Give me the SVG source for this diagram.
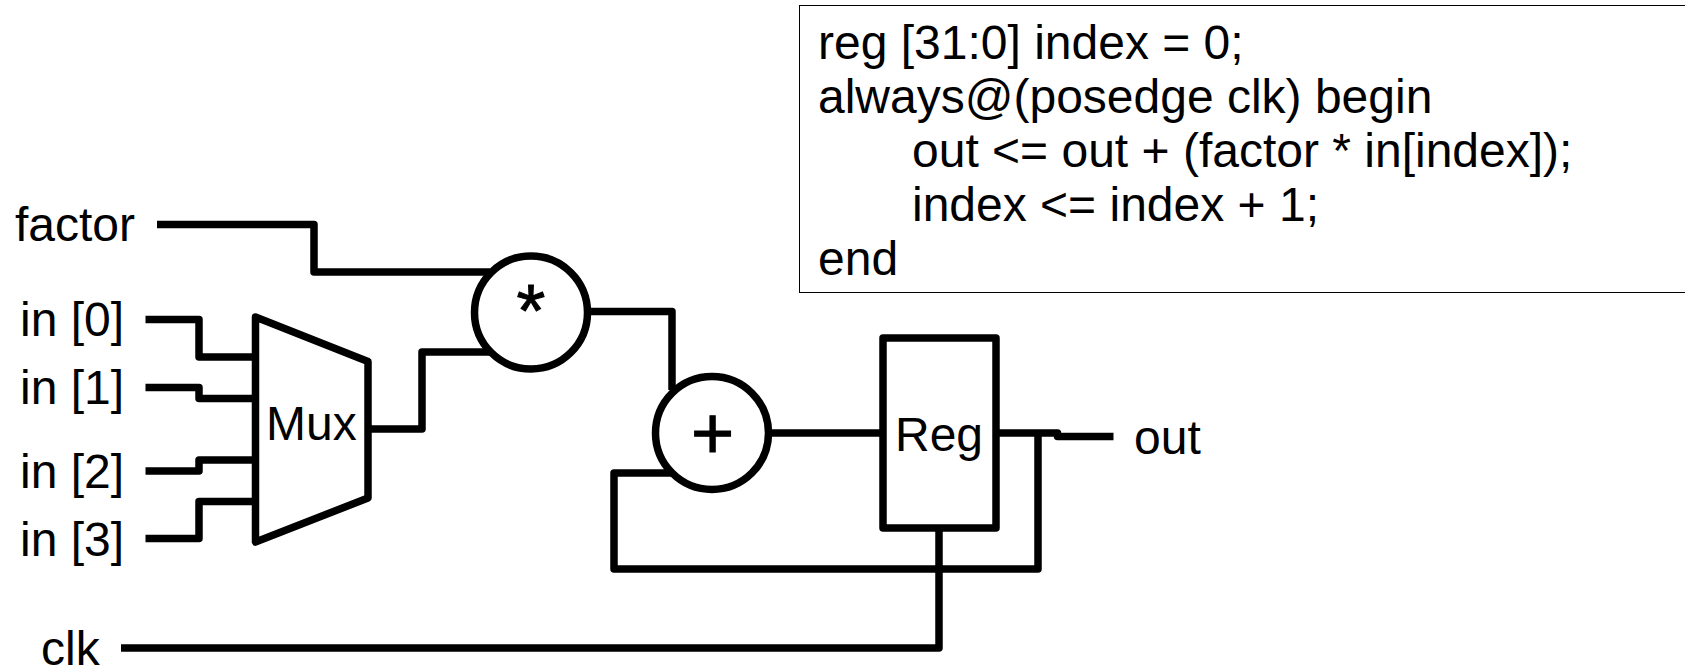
<svg xmlns="http://www.w3.org/2000/svg" width="1685" height="668" viewBox="0 0 1685 668">
<style>
text{font-family:"Liberation Sans",Arial,sans-serif;font-size:48px;fill:#000}
.s{fill:none;stroke:#000;stroke-width:7.5;stroke-linejoin:round}
.n{fill:#fff;stroke:#000;stroke-width:7.5;stroke-linejoin:round}
.m{text-anchor:middle}
.b{font-size:74px;stroke:#000;stroke-width:1}
</style>
<rect width="1685" height="668" fill="#fff"/>
<g id="connectors">
<path class="s" d="M157 224.500H314V272H490"/>
<path class="s" d="M145.500 319.500H199V357H256"/>
<path class="s" d="M145.500 387.500H199V398.500H256"/>
<path class="s" d="M145.500 471H199V460H256"/>
<path class="s" d="M145.500 538.500H199V501.500H256"/>
<path class="s" d="M368 429H422V352H490"/>
<path class="s" d="M590 311.500H672V390"/>
<path class="s" d="M770 433H884"/>
<path class="s" d="M996 433H1057.500V436.500H1113.500"/>
<path class="s" d="M1038 433V569H614V473H672"/>
<path class="s" d="M939 527V648H121"/>
</g>
<g id="code"><rect x="799.500" y="5.500" width="890" height="287" fill="#fff" stroke="#000" stroke-width="1"/>
<text x="818" y="59">reg [31:0] index = 0;</text>
<text x="818" y="112.500">always@(posedge clk) begin</text>
<text x="912" y="166.500">out &lt;= out + (factor * in[index]);</text>
<text x="912" y="220.500">index &lt;= index + 1;</text>
<text x="818" y="274.500">end</text></g>
<g id="factor"><text x="15" y="241">factor</text></g>
<g id="in0"><text x="20" y="336">in [0]</text></g>
<g id="in1"><text x="20" y="404">in [1]</text></g>
<g id="in2"><text x="20" y="488">in [2]</text></g>
<g id="in3"><text x="20" y="556">in [3]</text></g>
<g id="clk"><text x="41" y="665">clk</text></g>
<g id="mux"><path class="n" d="M255.500 317L368 361.500V498L255.500 542Z"/><text x="266" y="439.500">Mux</text></g>
<g id="mul"><circle class="n" cx="531" cy="312.500" r="56.500"/><text class="m b" x="531" y="336">*</text></g>
<g id="add"><circle class="n" cx="712" cy="433" r="56.500"/><text class="m b" x="712.500" y="459">+</text></g>
<g id="reg"><rect class="n" x="883" y="338" width="113" height="190"/><text x="895" y="451">Reg</text></g>
<g id="out"><text x="1134" y="454">out</text></g>
</svg>
